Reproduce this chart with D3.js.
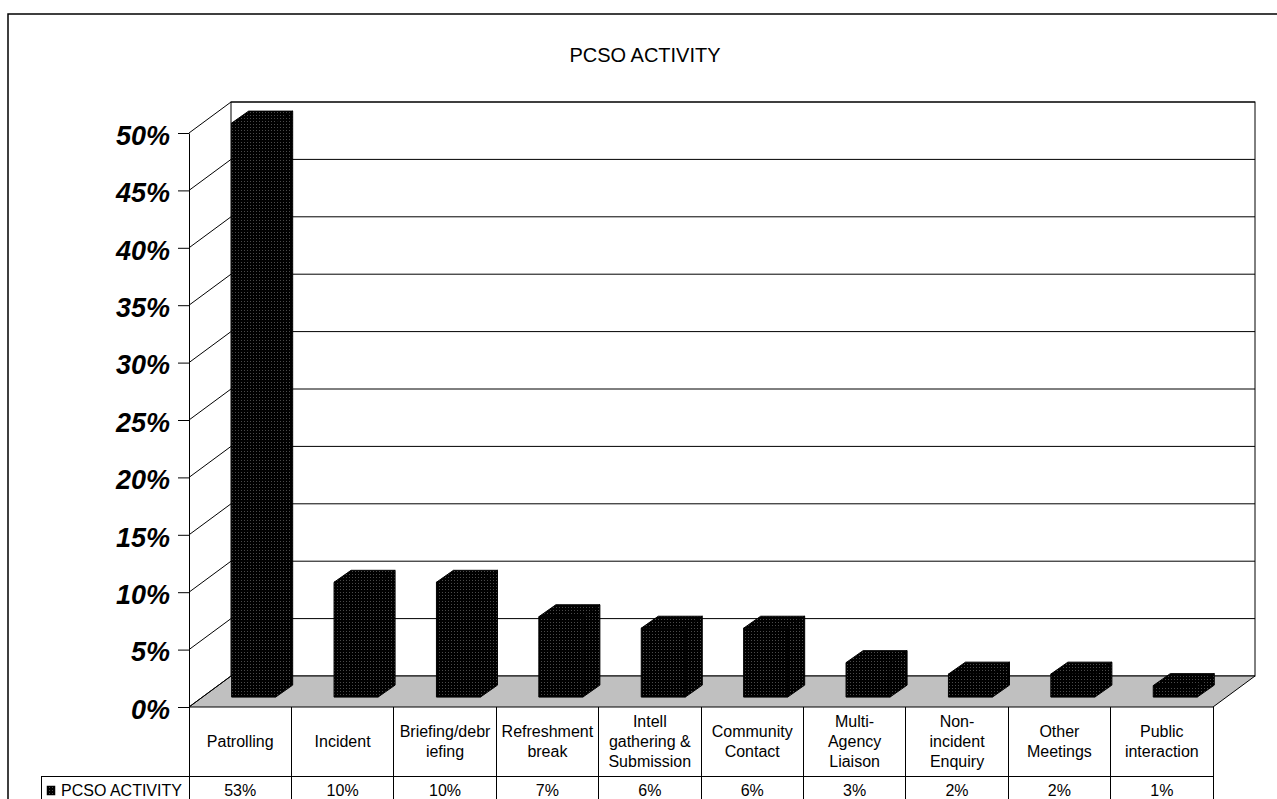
<!DOCTYPE html>
<html>
<head>
<meta charset="utf-8">
<script src="https://cdn.jsdelivr.net/npm/d3@7"></script>
<style>
html,body{margin:0;padding:0;background:#fff;}
svg{display:block;font-family:Arial,"Liberation Sans",sans-serif;}
</style>
</head>
<body>
<svg id="chart" width="1277" height="799"></svg>
<script>
// ---- data ----
const chartTitle = "PCSO ACTIVITY";
const seriesName = "PCSO ACTIVITY";
const categories = ["Patrolling","Incident","Briefing/debriefing","Refreshment break","Intell gathering & Submission","Community Contact","Multi-Agency Liaison","Non-incident Enquiry","Other Meetings","Public interaction"];
const categoryLines = [["Patrolling"],["Incident"],["Briefing/debr","iefing"],["Refreshment","break"],["Intell","gathering &","Submission"],["Community","Contact"],["Multi-","Agency","Liaison"],["Non-","incident","Enquiry"],["Other","Meetings"],["Public","interaction"]];
const values = [0.53,0.10,0.10,0.07,0.06,0.06,0.03,0.02,0.02,0.01];
const valueLabels = ["53%","10%","10%","7%","6%","6%","3%","2%","2%","1%"];
const yTicks = [0,0.05,0.10,0.15,0.20,0.25,0.30,0.35,0.40,0.45,0.50];

// ---- layout ----
const svg = d3.select("#chart");
const x0 = 189, x1 = 1213, yBase = 707, yTop = 133;
const D = {dx: 42, dy: -31};          // depth of the 3D box
const f1 = 0.32, f2 = 0.69;           // bar depth range (fraction)
const barW = 44;

const x = d3.scaleBand().domain(categories).range([x0, x1]);
const y = d3.scaleLinear().domain([0, 0.5]).range([yBase, yTop]);
const yMax = 0.5;

// pattern for bars
const defs = svg.append("defs");
const pat = defs.append("pattern").attr("id","dots").attr("width",3).attr("height",3).attr("patternUnits","userSpaceOnUse");
pat.append("rect").attr("width",3).attr("height",3).attr("fill","#000");
pat.append("rect").attr("x",1).attr("y",1).attr("width",1).attr("height",1).attr("fill","#4a4a4a");

// outer frame
svg.append("rect").attr("x",8).attr("y",14).attr("width",1290).attr("height",820)
  .attr("fill","#fff").attr("stroke","#000").attr("stroke-width",1.5);

// title
svg.append("text").attr("x",645).attr("y",62).attr("text-anchor","middle")
  .attr("font-size",20).text(chartTitle);

const g = svg.append("g");
const bx0 = x0 + D.dx, bx1 = x1 + D.dx;

// back wall
g.append("rect").attr("x",bx0).attr("y",y(yMax)+D.dy).attr("width",bx1-bx0).attr("height",y(0)-y(yMax))
  .attr("fill","#fff").attr("stroke","#000").attr("stroke-width",1);

// floor
g.append("polygon").attr("points",[[x0,y(0)],[bx0,y(0)+D.dy],[bx1,y(0)+D.dy],[x1,y(0)]].map(p=>p.join(",")).join(" "))
  .attr("fill","#c0c0c0").attr("stroke","#000").attr("stroke-width",1);

// gridlines on back wall and side wall
yTicks.forEach(t => {
  const yy = y(t);
  if (t > 0) {
    g.append("line").attr("x1",bx0).attr("x2",bx1).attr("y1",yy+D.dy).attr("y2",yy+D.dy)
      .attr("stroke","#000").attr("stroke-width",1);
  }
  g.append("line").attr("x1",x0).attr("x2",bx0).attr("y1",yy).attr("y2",yy+D.dy)
    .attr("stroke","#000").attr("stroke-width",1);
});

// axis
const axis = d3.axisLeft(y).tickValues(yTicks).tickFormat(d3.format(".0%")).tickSize(11).tickPadding(8).tickSizeOuter(0);
const ag = svg.append("g").attr("transform",`translate(${x0},0)`).call(axis);
ag.select(".domain").attr("stroke","#000").attr("stroke-width",1);
ag.selectAll(".tick line").attr("stroke","#000");
ag.selectAll(".tick text").attr("font-size",27).attr("font-weight","bold").attr("font-style","italic")
  .attr("font-family","Arial,'Liberation Sans',sans-serif").attr("fill","#000").attr("dy","0.42em");

// bars
const ddx = (f2 - f1) * D.dx + 1.5, ddy = (f2 - f1) * D.dy - 0.5;
const bars = g.append("g");
categories.forEach((c, i) => {
  const v = Math.min(values[i], yMax);
  const cx = x(c) + x.bandwidth()/2 + f1*D.dx;
  const xl = cx - barW/2, xr = cx + barW/2;
  const yb = y(0) + f1*D.dy, yt = y(v) + f1*D.dy;
  const st = {fill:"url(#dots)", stroke:"#000", "stroke-width":1};
  const poly = pts => bars.append("polygon").attr("points", pts.map(p=>p.join(",")).join(" "))
    .attr("fill",st.fill).attr("stroke",st.stroke).attr("stroke-width",st["stroke-width"]).attr("stroke-linejoin","round");
  poly([[xr,yt],[xr+ddx,yt+ddy],[xr+ddx,yb+ddy],[xr,yb]]);
  poly([[xl,yt],[xl+ddx,yt+ddy],[xr+ddx,yt+ddy],[xr,yt]]);
  poly([[xl,yt],[xr,yt],[xr,yb],[xl,yb]]);
});

// data table
const rowTop = yBase, rowMid = 776, rowBot = 830;
const tg = svg.append("g").attr("font-size",16).attr("fill","#000");
const lineAttrs = sel => sel.attr("stroke","#000").attr("stroke-width",1).attr("shape-rendering","crispEdges");
categories.forEach((c, i) => {
  lineAttrs(tg.append("line").attr("x1",x(c)).attr("x2",x(c)).attr("y1",rowTop).attr("y2",rowBot));
});
lineAttrs(tg.append("line").attr("x1",x1).attr("x2",x1).attr("y1",rowTop).attr("y2",rowBot));
lineAttrs(tg.append("line").attr("x1",41).attr("x2",x1).attr("y1",rowMid).attr("y2",rowMid));
lineAttrs(tg.append("line").attr("x1",41).attr("x2",41).attr("y1",rowMid).attr("y2",rowBot));

categories.forEach((c, i) => {
  const lines = categoryLines[i];
  const lh = 20;
  const cy = (rowTop + rowMid)/2;
  const startY = cy - (lines.length - 1) * lh / 2 + 5.5;
  const t = tg.append("text").attr("text-anchor","middle");
  lines.forEach((ln, k) => {
    t.append("tspan").attr("x", x(c) + x.bandwidth()/2).attr("y", startY + k*lh).text(ln);
  });
  tg.append("text").attr("text-anchor","middle").attr("x", x(c) + x.bandwidth()/2).attr("y", 796).text(valueLabels[i]);
});

// legend key
tg.append("rect").attr("x",47).attr("y",786).attr("width",8).attr("height",9).attr("fill","url(#dots)").attr("stroke","#000").attr("stroke-width",0.5);
tg.append("text").attr("x",61).attr("y",796).text(seriesName);
</script>
</body>
</html>
